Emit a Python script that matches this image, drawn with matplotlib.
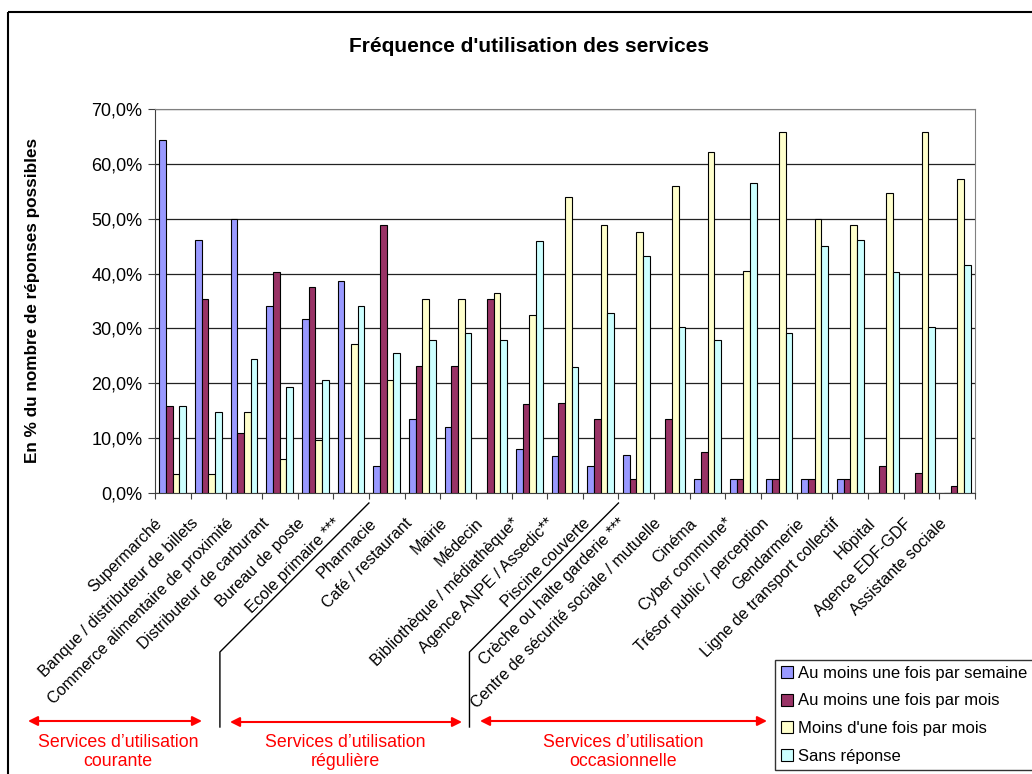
import numpy as np
import matplotlib
matplotlib.use('Agg')
import matplotlib.pyplot as plt
from matplotlib.patches import Rectangle
from matplotlib.transforms import ScaledTranslation

plt.rcParams['font.family'] = ['Liberation Sans', 'DejaVu Sans']

# Services (x categories)
categories = [
    "Supermarché", "Banque / distributeur de billets", "Commerce alimentaire de proximité",
    "Distributeur de carburant", "Bureau de poste", "Ecole primaire ***", "Pharmacie",
    "Café / restaurant", "Mairie", "Médecin", "Bibliothèque / médiathèque*",
    "Agence ANPE / Assedic**", "Piscine couverte", "Crèche ou halte garderie ***",
    "Centre de sécurité sociale / mutuelle", "Cinéma", "Cyber commune*",
    "Trésor public / perception", "Gendarmerie", "Ligne de transport collectif",
    "Hôpital", "Agence EDF-GDF", "Assistante sociale",
]

series_names = [
    "Au moins une fois par semaine",
    "Au moins une fois par mois",
    "Moins d'une fois par mois",
    "Sans réponse",
]

# Percentages per service
semaine = [64.4, 46.1, 50.0, 34.1, 31.7, 38.6, 5.0, 13.5, 12.1, 0.0, 8.1, 6.7,
           5.0, 6.9, 0.0, 2.5, 2.6, 2.5, 2.5, 2.5, 0.0, 0.0, 0.0]
mois = [15.9, 35.3, 10.9, 40.2, 37.6, 0.0, 48.8, 23.2, 23.2, 35.3, 16.2, 16.4,
        13.5, 2.5, 13.5, 7.4, 2.6, 2.5, 2.5, 2.5, 5.0, 3.6, 1.2]
moins = [3.5, 3.5, 14.7, 6.2, 9.7, 27.2, 20.6, 35.3, 35.3, 36.4, 32.4, 53.9,
         48.8, 47.6, 55.9, 62.1, 40.5, 65.8, 50.0, 48.8, 54.7, 65.8, 57.3]
sans = [15.9, 14.7, 24.4, 19.4, 20.6, 34.1, 25.5, 27.9, 29.1, 27.9, 45.9, 23.0,
        32.9, 43.2, 30.3, 27.9, 56.6, 29.1, 45.0, 46.1, 40.2, 30.3, 41.5]

y_ticks = [0, 10, 20, 30, 40, 50, 60, 70]
y_tick_labels = ["0,0%", "10,0%", "20,0%", "30,0%", "40,0%", "50,0%", "60,0%", "70,0%"]

group_labels = [
    "Services d’utilisation\ncourante",
    "Services d’utilisation\nrégulière",
    "Services d’utilisation\noccasionnelle",
]

colors = ["#9999FF", "#993366", "#FFFFCC", "#CCFFFF"]

W, H = 1032, 774
fig = plt.figure(figsize=(W / 100, H / 100), dpi=100)
ax = fig.add_axes([155 / W, 1 - 493 / H, 820 / W, 384 / H])

x = np.arange(len(categories))
bw = 0.187
for i, (vals, col, name) in enumerate(zip([semaine, mois, moins, sans], colors, series_names)):
    ax.bar(x + (i - 1.5) * bw, vals, bw, color=col, edgecolor="black",
           linewidth=0.8, label=name, zorder=3)

ax.set_xlim(-0.5, len(categories) - 0.5)
ax.set_ylim(0, 70)
ax.set_yticks(y_ticks)
ax.set_yticklabels(y_tick_labels, fontsize=13)
ax.yaxis.grid(True, color="#222222", linewidth=0.9)
ax.set_axisbelow(True)
ax.set_xticks(np.arange(len(categories) + 1) - 0.5)
ax.set_xticklabels([])
ax.tick_params(axis="x", direction="out", length=4, color="#404040")
ax.tick_params(axis="y", direction="out", length=5, color="#404040", pad=4)
for s in ["top", "right"]:
    ax.spines[s].set_color("#808080")
for s in ["left", "bottom"]:
    ax.spines[s].set_color("#404040")

# rotated category labels under each group
offset = ScaledTranslation(-0.13, -0.28, fig.dpi_scale_trans)
for i, lab in enumerate(categories):
    ax.text(i, 0, lab, rotation=45, ha="right", va="center", rotation_mode="anchor",
            fontsize=11.6, transform=ax.transData + offset)

fig.text(529 / W, 1 - 46 / H, "Fréquence d'utilisation des services",
         ha="center", va="center", fontsize=15, weight="bold")
fig.text(33 / W, 1 - 300 / H, "En % du nombre de réponses possibles", rotation=90,
         ha="center", va="center", fontsize=12.3, weight="bold")

fig.legend(loc="upper left", bbox_to_anchor=(775 / W, 1 - 660 / H), frameon=True,
           fancybox=False, edgecolor="black", fontsize=12, handlelength=0.75,
           handleheight=0.75, handletextpad=0.25, labelspacing=0.76,
           borderpad=0.35, borderaxespad=0)
fig.legends[0].get_frame().set_linewidth(1.0)

# overlay in pixel coordinates for the frame and the group annotations
ov = fig.add_axes([0, 0, 1, 1])
ov.set_xlim(0, W)
ov.set_ylim(H, 0)
ov.axis("off")
ov.patch.set_visible(False)

ov.add_patch(Rectangle((8, 12), 1100, 900, fill=False, edgecolor="black", linewidth=1.5))

for b in [5.5, 12.5]:
    bx, by = ax.transData.transform((b, 0))
    by = H - by
    ov.plot([bx, bx - 149, bx - 149], [by + 10, by + 159, 727], color="black", lw=1.0)

arrows = [(28, 202, 721), (230, 462, 722), (480, 767, 721)]
text_x = [118, 345, 623]
for (x0, x1, y), tx, lab in zip(arrows, text_x, group_labels):
    ov.annotate("", xy=(x0, y), xytext=(x1, y),
                arrowprops=dict(arrowstyle="<|-|>", color="red", lw=1.5,
                                mutation_scale=14, shrinkA=0, shrinkB=0))
    ov.text(tx, 752, lab, color="red", ha="center", va="center", fontsize=12.8,
            linespacing=1.15)

fig.savefig("out.png", dpi=100)
